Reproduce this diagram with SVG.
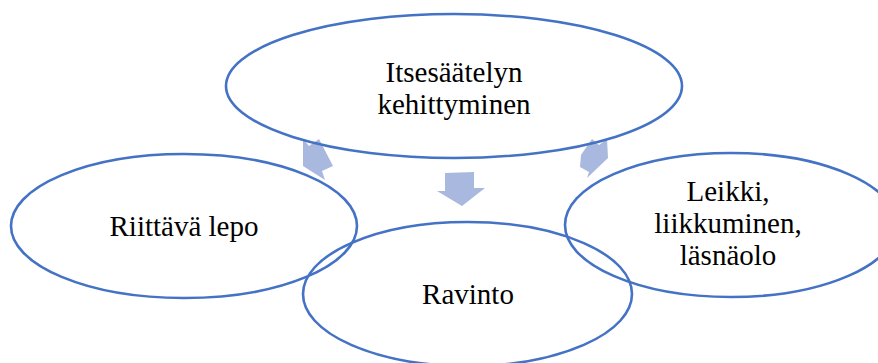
<svg xmlns="http://www.w3.org/2000/svg" width="878" height="363" viewBox="0 0 878 363">
<style>
.n{fill:none;stroke:#4472C4;stroke-width:2.6}
.a{fill:#A9B8DE}
</style>
<rect width="878" height="363" fill="#fff"/>
<g id="connectors">
<polygon class="a" points="303,139 309,146 319,139 333,166 322,171 325,180 303,166"/>
<polygon class="a" points="445,173 474,172 474,188 485,188 462,206 437,191 445,191"/>
<polygon class="a" points="592,139 599,145 607,139 608,158 587,178 589,172 580,167 581,155"/>
</g>
<g font-family="'Liberation Serif', 'Times New Roman', 'DejaVu Serif', serif" font-size="29" fill="#000" text-anchor="middle">
<g id="top">
<ellipse class="n" cx="454" cy="86" rx="228" ry="72"/>
<text x="454" y="82">Itsesäätelyn</text>
<text x="454" y="114">kehittyminen</text>
</g>
<g id="left">
<ellipse class="n" cx="184" cy="226" rx="173" ry="72"/>
<text x="184" y="236">Riittävä lepo</text>
</g>
<g id="bottom">
<ellipse class="n" cx="467.5" cy="294" rx="164.5" ry="72"/>
<text x="468" y="304">Ravinto</text>
</g>
<g id="right">
<ellipse class="n" cx="731" cy="225" rx="166" ry="72"/>
<text x="728" y="201">Leikki,</text>
<text x="728" y="233">liikkuminen,</text>
<text x="728" y="265">läsnäolo</text>
</g>
</g>
</svg>
